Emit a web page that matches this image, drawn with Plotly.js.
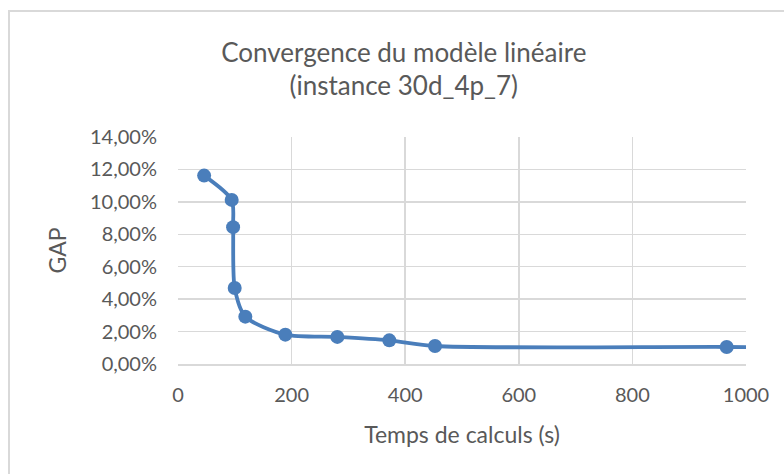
<!DOCTYPE html>
<html>
<head>
<meta charset="utf-8">
<script src="https://cdn.plot.ly/plotly-3.0.1.min.js"></script>
<style>
  html, body { margin: 0; padding: 0; background: #ffffff; }
  #frame { position: absolute; left: 8px; top: 10px; width: 800px; height: 500px; border: 2px solid #d9d9d9; box-sizing: border-box; }
  #chart { position: absolute; left: 0; top: 0; width: 784px; height: 474px; }
</style>
</head>
<body>
<div id="frame"></div>
<div id="chart"></div>
<script>
// Data
var tempsSecondes = [46, 94.5, 97, 99.8, 118.5, 189, 280.5, 372, 452.5, 966, 1400];
var gap = [0.1162, 0.1012, 0.0844, 0.0469, 0.0292, 0.0181, 0.0167, 0.0146, 0.0111, 0.0105, 0.0100];
var titreGraphique = "Convergence du modèle linéaire<br>(instance 30d_4p_7)";
var titreX = "Temps de calculs (s)";
var titreY = "GAP";

var textColor = "#595959";
var gridColor = "#d9d9d9";
var fontFamily = "Lato, 'Open Sans', sans-serif";

var trace = {
  x: tempsSecondes,
  y: gap,
  type: "scatter",
  mode: "lines+markers",
  line: { color: "#4a7ebb", width: 3.8, shape: "spline", smoothing: 0.75 },
  marker: { color: "#4a7ebb", size: 14 },
  cliponaxis: true,
  hoverinfo: "x+y"
};

var layout = {
  width: 784,
  height: 474,
  paper_bgcolor: "rgba(0,0,0,0)",
  plot_bgcolor: "rgba(0,0,0,0)",
  separators: ", ",
  margin: { l: 178, r: 38, t: 137, b: 110, pad: 0 },
  showlegend: false,
  font: { family: fontFamily, color: textColor },
  title: {
    text: titreGraphique,
    font: { family: fontFamily, size: 26, color: textColor },
    x: 0.515,
    xanchor: "center",
    y: 0.87,
    yanchor: "top"
  },
  xaxis: {
    range: [0, 1000],
    dtick: 200,
    tick0: 0,
    showgrid: true,
    gridcolor: gridColor,
    gridwidth: 1.5,
    zeroline: false,
    showline: true,
    linecolor: gridColor,
    linewidth: 1.5,
    ticks: "",
    ticklabelstandoff: 12,
    tickfont: { family: fontFamily, size: 20, color: textColor },
    title: { text: titreX, font: { family: fontFamily, size: 23, color: textColor }, standoff: 22 },
    fixedrange: true
  },
  yaxis: {
    range: [0, 0.14],
    dtick: 0.02,
    tick0: 0,
    tickformat: ".2%",
    showgrid: true,
    gridcolor: gridColor,
    gridwidth: 1.5,
    zeroline: false,
    showline: false,
    ticks: "",
    ticklabelstandoff: 20,
    tickfont: { family: fontFamily, size: 20, color: textColor },
    title: { text: titreY, font: { family: fontFamily, size: 23, color: textColor }, standoff: 16 },
    fixedrange: true
  }
};

Plotly.newPlot("chart", [trace], layout, { displayModeBar: false, staticPlot: true });
</script>
</body>
</html>
